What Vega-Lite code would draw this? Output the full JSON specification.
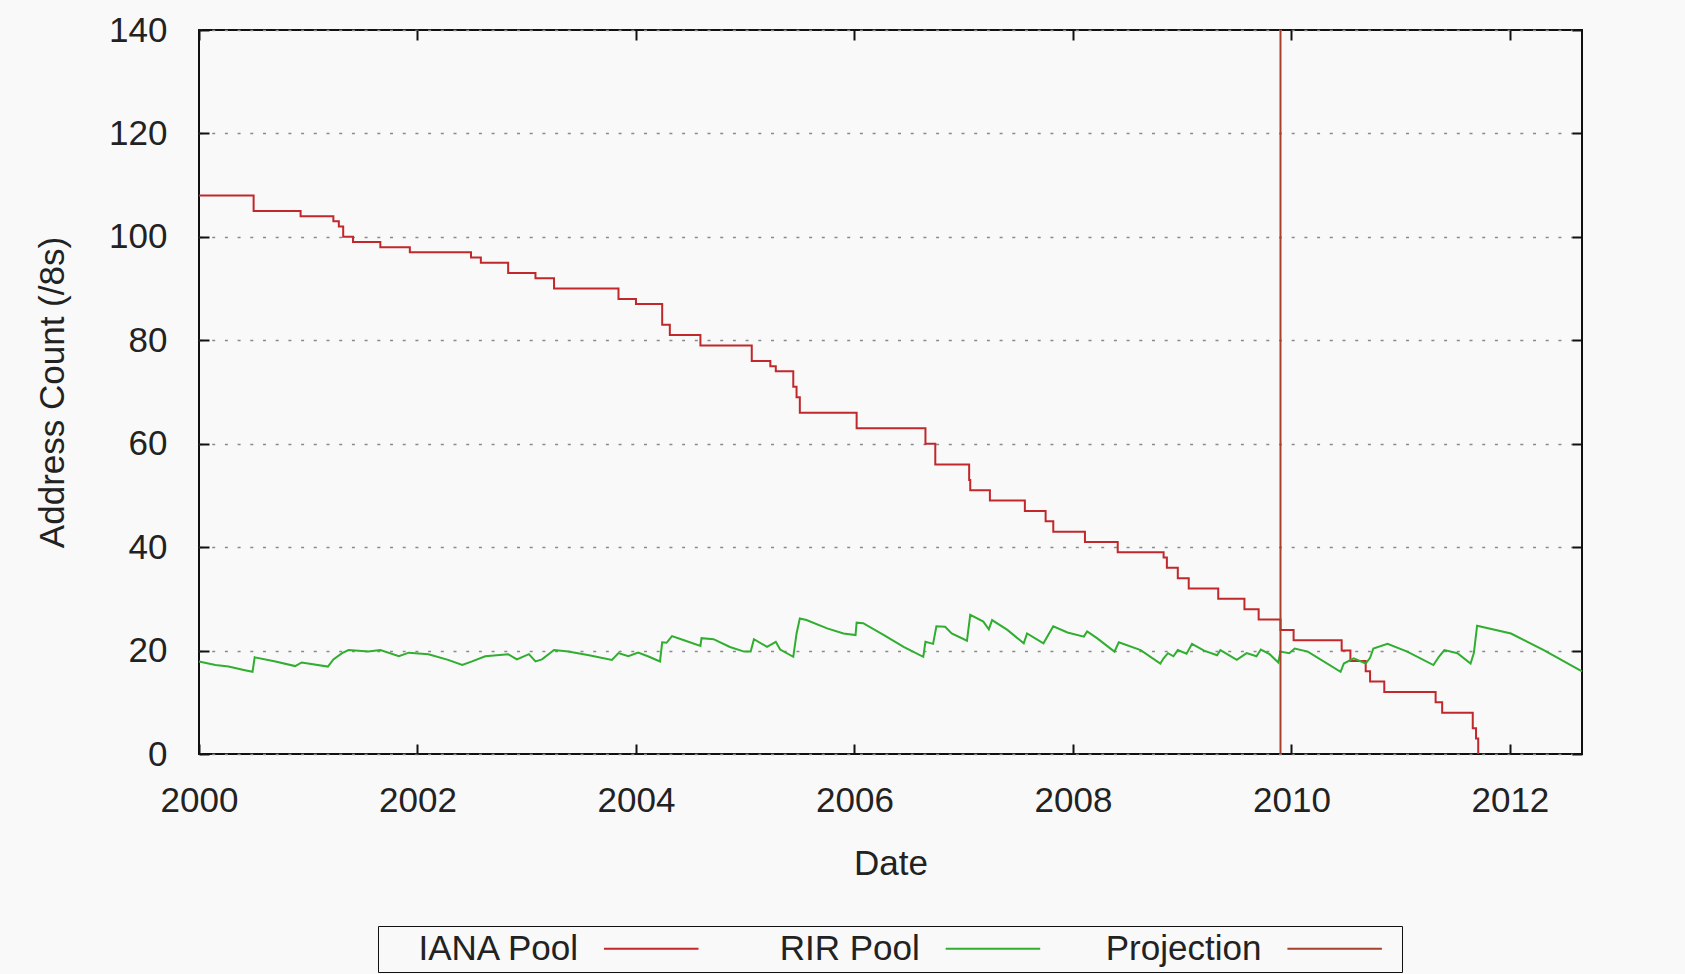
{
  "$schema": "https://vega.github.io/schema/vega-lite/v6.json",
  "width": 1383,
  "height": 724,
  "autosize": {"type": "none"},
  "padding": {"left": 199, "top": 30, "right": 103, "bottom": 220},
  "background": "#f9f9f9",
  "config": {
    "font": "Liberation Sans",
    "view": {"stroke": "#111111", "strokeWidth": 2, "fill": "#f9f9f9"},
    "axis": {
      "labelFont": "Liberation Sans",
      "labelFontSize": 35,
      "labelColor": "#222222",
      "labelFlush": false,
      "titleFont": "Liberation Sans",
      "titleFontSize": 35,
      "titleFontWeight": "normal",
      "titleColor": "#222222",
      "tickColor": "#111111",
      "tickWidth": 2,
      "tickSize": -10,
      "domain": false
    },
    "legend": {
      "orient": "none",
      "legendX": 179,
      "legendY": 896,
      "direction": "horizontal",
      "columns": 3,
      "gridAlign": "all",
      "columnPadding": 11.7,
      "padding": 5,
      "strokeColor": "#111111",
      "fillColor": "#f9f9f9",
      "labelFont": "Liberation Sans",
      "labelFontSize": 35,
      "labelColor": "#222222",
      "labelLimit": 400,
      "labelAlign": "right",
      "labelOffset": 160,
      "symbolType": "M20.35,0H29.8M30.84,0",
      "symbolSize": 400,
      "symbolStrokeWidth": 2
    }
  },
  "datasets": {
    "iana": [
      {"year": 2000.0, "value": 108}, {"year": 2000.5, "value": 105}, {"year": 2000.93, "value": 104},
      {"year": 2001.23, "value": 103}, {"year": 2001.28, "value": 102}, {"year": 2001.32, "value": 100},
      {"year": 2001.41, "value": 99}, {"year": 2001.66, "value": 98}, {"year": 2001.93, "value": 97},
      {"year": 2002.49, "value": 96}, {"year": 2002.58, "value": 95}, {"year": 2002.83, "value": 93},
      {"year": 2003.08, "value": 92}, {"year": 2003.25, "value": 90}, {"year": 2003.84, "value": 88},
      {"year": 2004.0, "value": 87}, {"year": 2004.24, "value": 83}, {"year": 2004.31, "value": 81},
      {"year": 2004.59, "value": 79}, {"year": 2005.06, "value": 76}, {"year": 2005.23, "value": 75},
      {"year": 2005.28, "value": 74}, {"year": 2005.44, "value": 71}, {"year": 2005.47, "value": 69},
      {"year": 2005.5, "value": 66}, {"year": 2006.02, "value": 63}, {"year": 2006.65, "value": 60},
      {"year": 2006.74, "value": 56}, {"year": 2007.05, "value": 53}, {"year": 2007.06, "value": 51},
      {"year": 2007.24, "value": 49}, {"year": 2007.56, "value": 47}, {"year": 2007.75, "value": 45},
      {"year": 2007.82, "value": 43}, {"year": 2008.11, "value": 41}, {"year": 2008.41, "value": 39},
      {"year": 2008.83, "value": 38}, {"year": 2008.86, "value": 36}, {"year": 2008.96, "value": 34},
      {"year": 2009.06, "value": 32}, {"year": 2009.33, "value": 30}, {"year": 2009.57, "value": 28},
      {"year": 2009.7, "value": 26}, {"year": 2009.9, "value": 24}, {"year": 2010.02, "value": 22},
      {"year": 2010.46, "value": 20}, {"year": 2010.54, "value": 18}, {"year": 2010.68, "value": 16},
      {"year": 2010.72, "value": 14}, {"year": 2010.85, "value": 12}, {"year": 2011.32, "value": 10},
      {"year": 2011.38, "value": 8}, {"year": 2011.66, "value": 5}, {"year": 2011.69, "value": 3},
      {"year": 2011.71, "value": 0}
    ],
    "rir": [
      {"year": 2000.0, "value": 17.9}, {"year": 2000.15, "value": 17.2}, {"year": 2000.27, "value": 16.9},
      {"year": 2000.42, "value": 16.2}, {"year": 2000.49, "value": 15.9}, {"year": 2000.51, "value": 18.7},
      {"year": 2000.7, "value": 17.9}, {"year": 2000.88, "value": 17.0}, {"year": 2000.94, "value": 17.7},
      {"year": 2001.18, "value": 16.9}, {"year": 2001.23, "value": 18.3}, {"year": 2001.31, "value": 19.5},
      {"year": 2001.37, "value": 20.1}, {"year": 2001.55, "value": 19.8}, {"year": 2001.66, "value": 20.1},
      {"year": 2001.83, "value": 18.9}, {"year": 2001.92, "value": 19.6}, {"year": 2002.1, "value": 19.3},
      {"year": 2002.28, "value": 18.2}, {"year": 2002.41, "value": 17.2}, {"year": 2002.5, "value": 17.9},
      {"year": 2002.62, "value": 18.9}, {"year": 2002.83, "value": 19.3}, {"year": 2002.91, "value": 18.3},
      {"year": 2003.02, "value": 19.3}, {"year": 2003.08, "value": 17.9}, {"year": 2003.14, "value": 18.3},
      {"year": 2003.25, "value": 20.1}, {"year": 2003.38, "value": 19.8}, {"year": 2003.57, "value": 19.1},
      {"year": 2003.78, "value": 18.2}, {"year": 2003.84, "value": 19.5}, {"year": 2003.93, "value": 18.9},
      {"year": 2004.02, "value": 19.6}, {"year": 2004.12, "value": 18.8}, {"year": 2004.22, "value": 17.9},
      {"year": 2004.24, "value": 21.6}, {"year": 2004.28, "value": 21.5}, {"year": 2004.33, "value": 22.8},
      {"year": 2004.44, "value": 22.0}, {"year": 2004.59, "value": 20.9}, {"year": 2004.6, "value": 22.4},
      {"year": 2004.71, "value": 22.2}, {"year": 2004.86, "value": 20.7}, {"year": 2004.99, "value": 19.8},
      {"year": 2005.05, "value": 19.8}, {"year": 2005.08, "value": 22.2}, {"year": 2005.2, "value": 20.7},
      {"year": 2005.28, "value": 21.7}, {"year": 2005.32, "value": 20.2}, {"year": 2005.44, "value": 18.8},
      {"year": 2005.47, "value": 23.3}, {"year": 2005.5, "value": 26.2}, {"year": 2005.56, "value": 25.9},
      {"year": 2005.75, "value": 24.3}, {"year": 2005.9, "value": 23.3}, {"year": 2006.01, "value": 23.0},
      {"year": 2006.02, "value": 25.4}, {"year": 2006.08, "value": 25.3}, {"year": 2006.27, "value": 23.0},
      {"year": 2006.45, "value": 20.7}, {"year": 2006.63, "value": 18.8}, {"year": 2006.65, "value": 21.7},
      {"year": 2006.72, "value": 21.3}, {"year": 2006.75, "value": 24.7}, {"year": 2006.83, "value": 24.6},
      {"year": 2006.89, "value": 23.3}, {"year": 2007.03, "value": 21.9}, {"year": 2007.06, "value": 26.9},
      {"year": 2007.18, "value": 25.6}, {"year": 2007.23, "value": 24.1}, {"year": 2007.26, "value": 25.9},
      {"year": 2007.4, "value": 24.0}, {"year": 2007.55, "value": 21.4}, {"year": 2007.58, "value": 23.3},
      {"year": 2007.73, "value": 21.4}, {"year": 2007.82, "value": 24.7}, {"year": 2007.95, "value": 23.5},
      {"year": 2008.1, "value": 22.7}, {"year": 2008.13, "value": 23.7}, {"year": 2008.22, "value": 22.4},
      {"year": 2008.38, "value": 19.8}, {"year": 2008.42, "value": 21.6}, {"year": 2008.62, "value": 20.1},
      {"year": 2008.8, "value": 17.5}, {"year": 2008.83, "value": 18.5}, {"year": 2008.87, "value": 19.5},
      {"year": 2008.92, "value": 18.9}, {"year": 2008.96, "value": 20.1}, {"year": 2009.04, "value": 19.4},
      {"year": 2009.09, "value": 21.3}, {"year": 2009.2, "value": 20.0}, {"year": 2009.32, "value": 19.1},
      {"year": 2009.35, "value": 20.1}, {"year": 2009.5, "value": 18.2}, {"year": 2009.59, "value": 19.5},
      {"year": 2009.68, "value": 18.9}, {"year": 2009.72, "value": 20.2}, {"year": 2009.8, "value": 19.3},
      {"year": 2009.88, "value": 17.7}, {"year": 2009.9, "value": 19.8}, {"year": 2009.98, "value": 19.5},
      {"year": 2010.03, "value": 20.4}, {"year": 2010.15, "value": 19.8}, {"year": 2010.45, "value": 15.9},
      {"year": 2010.48, "value": 17.5}, {"year": 2010.57, "value": 18.5}, {"year": 2010.68, "value": 17.5},
      {"year": 2010.72, "value": 18.6}, {"year": 2010.75, "value": 20.4}, {"year": 2010.88, "value": 21.3},
      {"year": 2011.06, "value": 19.8}, {"year": 2011.3, "value": 17.2}, {"year": 2011.35, "value": 18.8},
      {"year": 2011.4, "value": 20.1}, {"year": 2011.52, "value": 19.5}, {"year": 2011.64, "value": 17.5},
      {"year": 2011.67, "value": 19.5}, {"year": 2011.7, "value": 24.8}, {"year": 2012.01, "value": 23.3},
      {"year": 2012.31, "value": 20.1}, {"year": 2012.66, "value": 16.0}
    ],
    "projection": [
      {"year": 2009.9}
    ]
  },
  "layer": [
    {
      "data": {"name": "iana"},
      "mark": {"type": "line", "interpolate": "step-after", "strokeWidth": 2},
      "encoding": {
        "x": {
          "field": "year",
          "type": "quantitative",
          "scale": {"domain": [2000, 2012.66], "nice": false, "zero": false},
          "axis": {
            "title": "Date",
            "values": [2000, 2002, 2004, 2006, 2008, 2010, 2012],
            "format": "d",
            "grid": false,
            "labelPadding": 39,
            "titlePadding": 28
          }
        },
        "y": {
          "field": "value",
          "type": "quantitative",
          "scale": {"domain": [0, 140], "nice": false},
          "axis": {
            "title": "Address Count (/8s)",
            "values": [0, 20, 40, 60, 80, 100, 120, 140],
            "grid": true,
            "gridColor": "#8a8a8a",
            "gridWidth": 1.5,
            "gridDash": [3, 9.7],
            "labelPadding": 42,
            "titlePadding": 38
          }
        },
        "color": {
          "datum": "IANA Pool",
          "type": "nominal",
          "scale": {
            "domain": ["IANA Pool", "RIR Pool", "Projection"],
            "range": ["#c0282c", "#2fae2f", "#a8402e"]
          },
          "legend": {"title": null}
        }
      }
    },
    {
      "data": {"name": "rir"},
      "mark": {"type": "line", "strokeWidth": 2},
      "encoding": {
        "x": {
          "field": "year",
          "type": "quantitative",
          "axis": {
            "orient": "top",
            "title": null,
            "labels": false,
            "grid": false,
            "values": [2000, 2002, 2004, 2006, 2008, 2010, 2012]
          }
        },
        "y": {
          "field": "value",
          "type": "quantitative",
          "axis": {
            "orient": "right",
            "title": null,
            "labels": false,
            "grid": false,
            "values": [0, 20, 40, 60, 80, 100, 120, 140]
          }
        },
        "color": {"datum": "RIR Pool", "type": "nominal"}
      }
    },
    {
      "data": {"name": "projection"},
      "mark": {"type": "rule", "strokeWidth": 2},
      "encoding": {
        "x": {"field": "year", "type": "quantitative", "axis": null},
        "color": {"datum": "Projection", "type": "nominal"}
      }
    }
  ],
  "resolve": {"axis": {"x": "independent", "y": "independent"}}
}
